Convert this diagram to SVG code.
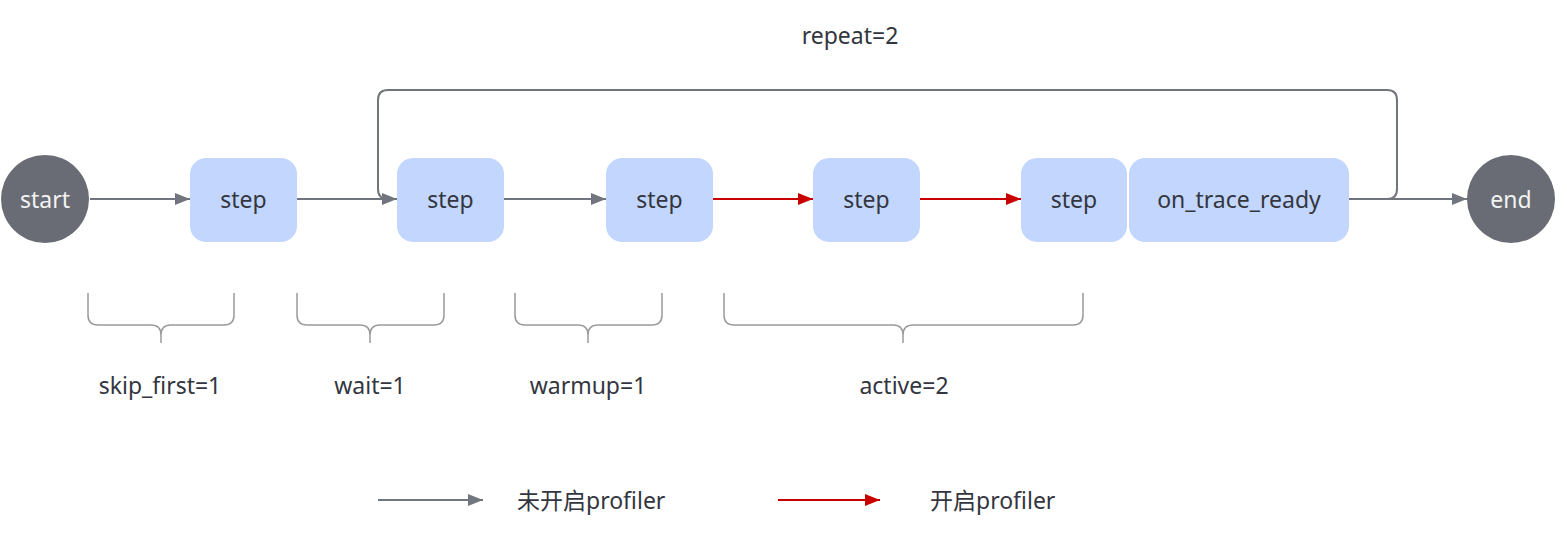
<svg xmlns="http://www.w3.org/2000/svg" width="1567" height="537" viewBox="0 0 1567 537">
<style>
  text { font-family: "Noto Sans", "Noto Sans CJK SC", sans-serif; font-size: 23px; fill: #333640; }
  .node rect { fill: #c3d7fe; }
  .node text { text-anchor: middle; dominant-baseline: central; }
  .term circle { fill: #696c74; }
  .term text { fill: #f2f2f2; text-anchor: middle; dominant-baseline: central; }
  .edge { fill: none; stroke: #71757d; stroke-width: 2; }
  .edge.red { stroke: #c80000; }
  .brace { fill: none; stroke: #9a9a9a; stroke-width: 1.5; }
  .lbl { text-anchor: middle; dominant-baseline: central; }
</style>
<defs>
  <marker id="ag" markerUnits="userSpaceOnUse" markerWidth="16" markerHeight="14" refX="15" refY="7" orient="auto">
    <path d="M0,1 L15,7 L0,13 z" fill="#71757d"/>
  </marker>
  <marker id="ar" markerUnits="userSpaceOnUse" markerWidth="16" markerHeight="14" refX="15" refY="7" orient="auto">
    <path d="M0,1 L15,7 L0,13 z" fill="#c80000"/>
  </marker>
</defs>

<g id="connectors">
  <path class="edge" d="M1349 199 H1387 Q1397 199 1397 189 V100 Q1397 90 1387 90 H388 Q378 90 378 100 V189 Q378 199 388 199 H397"/>
  <path class="edge" d="M90 199 H190" marker-end="url(#ag)"/>
  <path class="edge" d="M297 199 H397" marker-end="url(#ag)"/>
  <path class="edge" d="M504 199 H606" marker-end="url(#ag)"/>
  <path class="edge red" d="M713 199 H813" marker-end="url(#ar)"/>
  <path class="edge red" d="M920 199 H1021" marker-end="url(#ar)"/>
  <path class="edge" d="M1349 199 H1467" marker-end="url(#ag)"/>
</g>

<g id="start" class="term"><circle cx="45" cy="199" r="44"/><text x="45" y="199">start</text></g>
<g id="step1" class="node"><rect x="190" y="158" width="107" height="84" rx="16"/><text x="243.5" y="199">step</text></g>
<g id="step2" class="node"><rect x="397" y="158" width="107" height="84" rx="16"/><text x="450.5" y="199">step</text></g>
<g id="step3" class="node"><rect x="606" y="158" width="107" height="84" rx="16"/><text x="659.5" y="199">step</text></g>
<g id="step4" class="node"><rect x="813" y="158" width="107" height="84" rx="16"/><text x="866.5" y="199">step</text></g>
<g id="step5" class="node"><rect x="1021" y="158" width="106" height="84" rx="16"/><text x="1074" y="199">step</text></g>
<g id="on_trace_ready" class="node"><rect x="1129" y="158" width="220" height="84" rx="16"/><text x="1239" y="199">on_trace_ready</text></g>
<g id="end" class="term"><circle cx="1511" cy="199" r="44"/><text x="1511" y="199">end</text></g>

<g id="repeat-label"><text class="lbl" x="850" y="35">repeat=2</text></g>

<g id="braces">
  <path class="brace" d="M88 293 V315 Q88 325 98 325 H151 Q161 325 161 335 V343 M234 293 V315 Q234 325 224 325 H171 Q161 325 161 335"/>
  <path class="brace" d="M297 293 V315 Q297 325 307 325 H360 Q370 325 370 335 V343 M444 293 V315 Q444 325 434 325 H380 Q370 325 370 335"/>
  <path class="brace" d="M515 293 V315 Q515 325 525 325 H578 Q588 325 588 335 V343 M662 293 V315 Q662 325 652 325 H598 Q588 325 588 335"/>
  <path class="brace" d="M724 293 V315 Q724 325 734 325 H893 Q903 325 903 335 V343 M1083 293 V315 Q1083 325 1073 325 H913 Q903 325 903 335"/>
  <text class="lbl" x="160" y="385">skip_first=1</text>
  <text class="lbl" x="370" y="385">wait=1</text>
  <text class="lbl" x="588" y="385">warmup=1</text>
  <text class="lbl" x="904" y="385">active=2</text>
</g>

<g id="legend">
  <path class="edge" d="M378 500 H483" marker-end="url(#ag)"/>
  <text x="517" y="500" dominant-baseline="central">未开启profiler</text>
  <path class="edge red" d="M778 500 H880" marker-end="url(#ar)"/>
  <text x="930" y="500" dominant-baseline="central">开启profiler</text>
</g>
</svg>
